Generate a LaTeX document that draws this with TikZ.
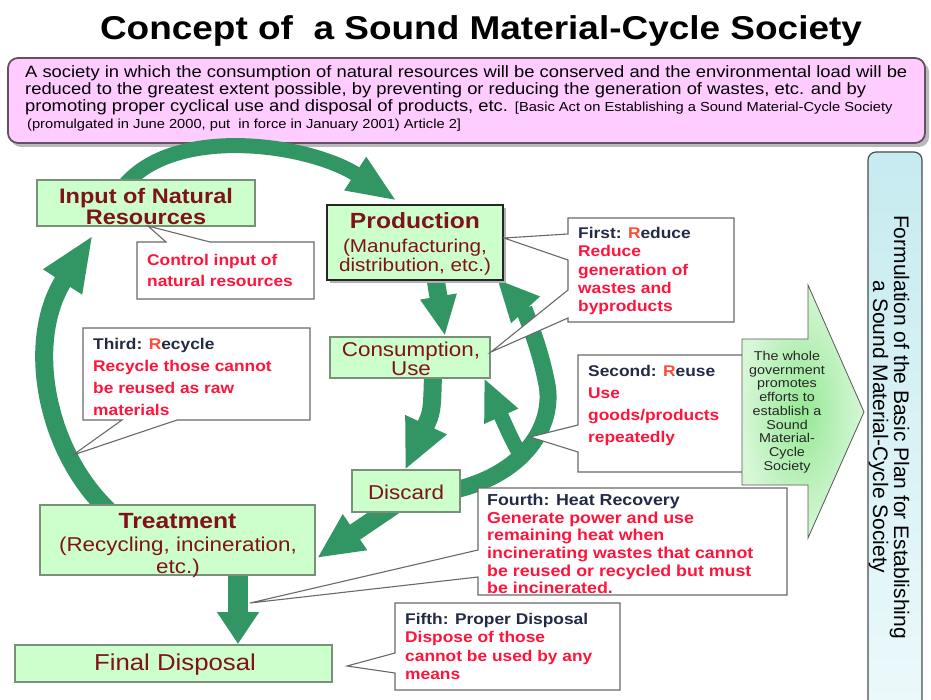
\documentclass[tikz,border=0pt]{standalone}
\usepackage{fontspec}
\setmainfont{Liberation Sans}[FakeStretch=1.12]
\newfontfamily\plainsans{Liberation Sans}
\usetikzlibrary{arrows.meta}
\definecolor{boxgreen}{HTML}{CCFFCC}
\definecolor{boxedge}{RGB}{120,145,120}
\definecolor{boxtext}{RGB}{128,18,28}
\definecolor{callred}{RGB}{255,20,60}
\definecolor{callnavy}{RGB}{35,42,70}
\definecolor{rorange}{RGB}{255,75,55}
\definecolor{arrgreen}{RGB}{50,150,100}
\definecolor{pinkfill}{HTML}{FFCCFF}
\definecolor{pinkedge}{RGB}{100,80,100}
\definecolor{callgray}{RGB}{105,105,105}
\definecolor{cyantop}{RGB}{198,235,240}
\definecolor{cyanbot}{RGB}{236,249,251}
\definecolor{bigin}{RGB}{150,232,150}
\definecolor{bigout}{RGB}{215,247,215}
\newcommand{\fsz}[2]{\fontsize{#1}{#2}\selectfont}
\newcommand{\navyR}[2]{{\color{callnavy}#1}\textcolor{rorange}{R}{\color{callnavy}#2}}
\begin{document}
\begin{tikzpicture}[x=1pt,y=-1pt,
  gbox/.style={draw=boxedge,fill=boxgreen,line width=1.2pt,inner sep=0pt},
  btxt/.style={text=boxtext,align=center,inner sep=0pt},
  callout/.style={draw=callgray,fill=white,line width=1.1pt,line join=miter},
  ctxt/.style={anchor=north west,align=left,inner sep=0pt,text=callred},
  ptxt/.style={anchor=base west,inner sep=0pt,font=\fsz{16.4}{18}},
  garrow/.style={draw=arrgreen,line width=#1},
]
\useasboundingbox (0,0) rectangle (931,700);
\fill[white] (0,0) rectangle (931,700);

% title
\node[font=\bfseries\fsz{33}{36},anchor=base] (title) at (481,40) {Concept of\ \ a Sound Material-Cycle Society};

% definition box
\fill[gray!55,rounded corners=10pt] (11,62) rectangle (929,147);
\node[draw=pinkedge,line width=1.8pt,fill=pinkfill,rounded corners=10pt,minimum width=917pt,minimum height=85pt,inner sep=0pt] (defn) at (466.5,100.5) {};
\node[ptxt] (d1) at (25,78) {A society in which the consumption of natural resources will be conserved and the environmental load will be};
\node[ptxt] (d2) at (25,95) {reduced to the greatest extent possible, by preventing or reducing the generation of wastes, etc. and by};
\node[ptxt] (d3) at (25,112) {promoting proper cyclical use and disposal of products, etc. {\fsz{13.1}{13}[Basic Act on Establishing a Sound Material-Cycle Society}};
\node[ptxt,font=\fsz{13.1}{13}] (d4) at (27,129) {(promulgated in June 2000, put\ \ in force in January 2001) Article 2]};

% arrow end coordinates
\coordinate (a1s) at (124,186);
\coordinate (a1e) at (397,201);
\coordinate (a2s) at (108,510);
\coordinate (a2e) at (93,235);
\coordinate (a3s) at (435,276);
\coordinate (a3e) at (445,336);
\coordinate (a4s) at (433,374);
\coordinate (a4e) at (405,470);
\coordinate (a5s) at (455,490);
\coordinate (a5e) at (497,279);
\coordinate (a6s) at (522,458);
\coordinate (a6e) at (484,378);
\coordinate (a7s) at (395,505);
\coordinate (a7e) at (317,558);
\coordinate (a8s) at (238,572);
\coordinate (a8e) at (238,644);

% green arrows
\draw[garrow=15pt,-{Triangle[length=50pt,width=36pt]}] (a1s) .. controls (175,124) and (310,144) .. (a1e);
\draw[garrow=18pt,-{Triangle[length=56pt,width=42pt]}] (a2s) .. controls (45,450) and (25,340) .. (a2e);
\draw[garrow=18pt,-{Triangle[length=40pt,width=34pt]}] (a3s) -- (a3e);
\draw[garrow=18pt,-{Triangle[length=50pt,width=42pt]}] (a4s) .. controls (432,412) .. (a4e);
\draw[garrow=17pt,-{Triangle[length=42pt,width=36pt]}] (a5s) .. controls (530,472) and (556,420) .. (546,380) .. controls (538,340) and (522,306) .. (a5e);
\draw[garrow=15pt,-{Triangle[length=42pt,width=34pt]}] (a6s) .. controls (512,440) .. (a6e);
\draw[garrow=18pt,-{Triangle[length=46pt,width=40pt]}] (a7s) -- (a7e);
\draw[garrow=20pt,-{Triangle[length=32pt,width=40pt]}] (a8s) -- (a8e);

% green boxes
\node[gbox,minimum width=218pt,minimum height=46pt] (input) at (146,203) {};
\node[btxt,font=\bfseries\fsz{21}{21}] (inputtxt) at (146,206) {Input of Natural\\Resources};
\fill[gray!60] (330,208) rectangle (506,283);
\node[gbox,draw=black!85,minimum width=176pt,minimum height=75pt] (prod) at (415,242.5) {};
\node[btxt,font=\bfseries\fsz{22}{24}] (prodtitle) at (415,221) {Production};
\node[btxt,font=\fsz{18.5}{19.5}] (prodsub) at (415,257) {(Manufacturing,\\distribution, etc.)};
\node[gbox,minimum width=160pt,minimum height=41pt] (cons) at (410,357.5) {};
\node[btxt,font=\fsz{20}{19.5}] (constxt) at (411,359) {Consumption,\\Use};
\node[gbox,minimum width=108pt,minimum height=42pt] (disc) at (406,491) {};
\node[btxt,font=\fsz{20}{22}] (disctxt) at (406,492) {Discard};
\node[gbox,minimum width=275pt,minimum height=70pt] (treat) at (177.5,540) {};
\node[btxt,font=\bfseries\fsz{22}{24}] (treattitle) at (177.5,521) {Treatment};
\node[btxt,font=\fsz{20}{22}] (treatsub) at (178,557) {(Recycling, incineration,\\etc.)};
\node[gbox,minimum width=317pt,minimum height=37pt] (final) at (173.5,663.5) {};
\node[btxt,font=\fsz{23}{24}] (finaltxt) at (175,665) {Final Disposal};

% callouts
\draw[callout] (137,242) -- (166,242) -- (148,226) -- (210,242) -- (314,242) -- (314,299) -- (137,299) -- cycle;
\node[ctxt,font=\bfseries\fsz{15.5}{21}] (ctl) at (147,254) {Control input of\\natural resources};

\draw[callout] (568,218) -- (734,218) -- (734,322) -- (568,322) -- (568,318) -- (491,352) -- (568,290) -- (568,260) -- (504,238) -- (568,234) -- cycle;
\node[ctxt,font=\bfseries\fsz{15.5}{18.3}] (first) at (578,227) {\navyR{First: }{educe}\\Reduce\\generation of\\wastes and\\byproducts};

\draw[callout] (83,328) -- (310,328) -- (310,420) -- (177,420) -- (73,455) -- (122,420) -- (83,420) -- cycle;
\node[ctxt,font=\bfseries\fsz{15.5}{22}] (third) at (93,338) {\navyR{Third: }{ecycle}\\Recycle those cannot\\be reused as raw\\materials};

\draw[callout] (578,355) -- (765,355) -- (765,472) -- (578,472) -- (578,452) -- (530,437) -- (578,425) -- cycle;
\node[ctxt,font=\bfseries\fsz{15.5}{22}] (second) at (588,365) {\navyR{Second: }{euse}\\Use\\goods/products\\repeatedly};

\draw[callout] (478,488) -- (787,488) -- (787,595) -- (478,595) -- (478,577) -- (250,603) -- (478,550) -- cycle;
\node[ctxt,font=\bfseries\fsz{15.9}{17.6}] (fourth) at (487,494) {{\color{callnavy}Fourth: Heat Recovery}\\Generate power and use\\remaining heat when\\incinerating wastes that cannot\\be reused or recycled but must\\be incinerated.};

\draw[callout] (395,603) -- (620,603) -- (620,690) -- (395,690) -- (395,673) -- (347,666) -- (395,653) -- cycle;
\node[ctxt,font=\bfseries\fsz{15.5}{18.3}] (fifth) at (405,613) {{\color{callnavy}Fifth: Proper Disposal}\\Dispose of those\\cannot be used by any\\means};

% big arrow
\path[draw=gray!70!black,line width=0.8pt,shading=radial,inner color=bigin,outer color=bigout]
  (742,339) -- (808,339) -- (808,285) -- (864,412) -- (808,538) -- (808,485) -- (742,485) -- cycle;
\node[align=center,inner sep=0pt,text=black!85,font=\fsz{12.8}{13.75}] (govtxt) at (787,412) {The whole\\government\\promotes\\efforts to\\establish a\\Sound\\Material-\\Cycle\\Society};

% plan box
\node[draw=gray!60!black,line width=1.2pt,rounded corners=8pt,top color=cyantop,bottom color=cyanbot,minimum width=54pt,minimum height=560pt,inner sep=0pt] (plan) at (895,432) {};
\node[rotate=-90,align=center,inner sep=0pt,font=\plainsans\fsz{21}{21}] (plantxt) at (889,427) {Formulation of the Basic Plan for Establishing\\a Sound Material-Cycle Society};
\end{tikzpicture}
\end{document}
